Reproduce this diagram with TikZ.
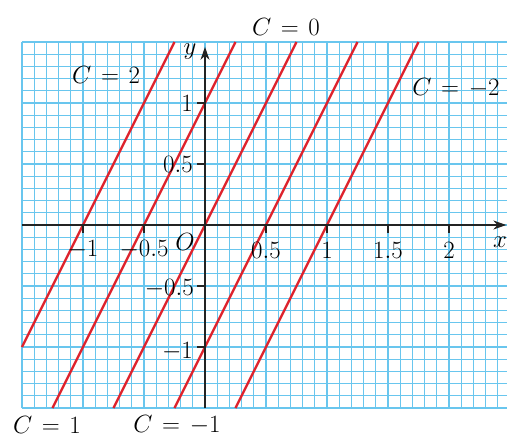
\documentclass[tikz,border=0pt]{standalone}
\usetikzlibrary{arrows.meta}
\definecolor{gridblue}{RGB}{105,198,238}
\definecolor{linered}{RGB}{222,35,45}
\definecolor{axisgray}{RGB}{35,35,35}
\tikzset{
  minorgrid/.style={gridblue, line width=1.0pt},
  majorgrid/.style={gridblue, line width=1.15pt},
  clines/.style={linered, line width=2.4pt},
  axisline/.style={axisgray, line width=1.3pt},
  tickmark/.style={axisgray, line width=1.1pt},
  lbl/.style={inner sep=0pt, font=\fontsize{24.88}{29}\selectfont},
  arrowtip/.style={-{Stealth[length=13pt,width=9pt]}}
}
\newcommand{\eqsp}{\mkern2mu=\mkern2mu}
\begin{document}
\begin{tikzpicture}[x=122pt,y=122pt]
\useasboundingbox (-205pt,-212pt) rectangle (302pt,225pt);
\fill[white] (-205pt,-212pt) rectangle (302pt,225pt);
% grid
\draw[minorgrid] (-1.5,-1.5) grid[step=0.1] (2.6,1.5);
\draw[majorgrid] (-1.5,-1.5) grid[step=0.5] (2.6,1.5);
% red lines y = 2x + C
\coordinate (a1) at (-1.5,-1);    \coordinate (a2) at (-0.25,1.5);
\coordinate (b1) at (-1.25,-1.5); \coordinate (b2) at (0.25,1.5);
\coordinate (c1) at (-0.75,-1.5); \coordinate (c2) at (0.75,1.5);
\coordinate (d1) at (-0.25,-1.5); \coordinate (d2) at (1.25,1.5);
\coordinate (e1) at (0.25,-1.5);  \coordinate (e2) at (1.75,1.5);
\draw[clines] (a1) -- (a2);
\draw[clines] (b1) -- (b2);
\draw[clines] (c1) -- (c2);
\draw[clines] (d1) -- (d2);
\draw[clines] (e1) -- (e2);
% axes
\coordinate (xs) at (-1.5,0); \coordinate (xe) at (2.47,0);
\coordinate (ys) at (0,-1.5); \coordinate (ye) at (0,1.46);
\draw[axisline,arrowtip] (xs) -- (xe);
\draw[axisline,arrowtip] (ys) -- (ye);
% ticks
\foreach \t in {-1,-0.5,0.5,1,1.5,2} \draw[tickmark] (\t,0) -- ++(0,-8pt);
\foreach \t in {-1,-0.5,0.5,1} \draw[tickmark] (0,\t) -- ++(-8pt,0);
% tick labels
\node[lbl] (xm1) at (-1,-0.205) {$-1$};
\node[lbl] (xm05) at (-0.5,-0.205) {$-0.5$};
\node[lbl] (x05) at (0.5,-0.205) {$0.5$};
\node[lbl] (x1) at (1,-0.205) {$1$};
\node[lbl] (x15) at (1.5,-0.205) {$1.5$};
\node[lbl] (x2) at (2,-0.205) {$2$};
\node[lbl,anchor=east] (y1) at (-12pt,1) {$1$};
\node[lbl,anchor=east] (y05) at (-12pt,0.5) {$0.5$};
\node[lbl,anchor=east] (ym05) at (-11pt,-0.52) {$-0.5$};
\node[lbl,anchor=east] (ym1) at (-12pt,-1.04) {$-1$};
\node[lbl] (orig) at (-0.164,-0.139) {$O$};
\node[lbl] (xlab) at (2.418,-0.139) {$x$};
\node[lbl] (ylab) at (-0.123,1.418) {$y$};
% C labels
\node[lbl] (c0) at (0.664,1.623) {$C\eqsp 0$};
\node[lbl] (cp2) at (-0.811,1.23) {$C\eqsp 2$};
\node[lbl] (cm2) at (2.057,1.123) {$C\eqsp -2$};
\node[lbl] (cp1) at (-1.295,-1.64) {$C\eqsp 1$};
\node[lbl] (cm1) at (-0.23,-1.64) {$C\eqsp -1$};
\end{tikzpicture}
\end{document}
